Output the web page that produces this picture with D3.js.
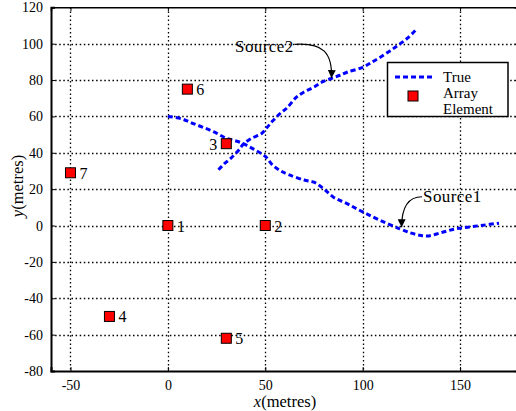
<!DOCTYPE html>
<html><head><meta charset="utf-8">
<script src="https://cdn.jsdelivr.net/npm/d3@7"></script>
<style>body{margin:0;background:#fff}svg{display:block}</style>
</head><body>
<script>
// ---- data ----
const xTicks = [-50, 0, 50, 100, 150];
const yTicks = [-80, -60, -40, -20, 0, 20, 40, 60, 80, 100, 120];
const elementIds = ["1","2","3","4","5","6","7"];
const elementX = [0, 50, 30, -30, 30, 10, -50];
const elementY = [0, 0, 45, -50, -62, 75, 29];
const labelSide = ["r","r","l","r","r","r","r"];
const source1 = [[0,60],[7,58.7],[12,56.5],[18,54],[24,51.3],[30,48],[37,45.8],[44,42],[50,38],[54,33],[58,30],[62,28],[70,25],[75,23.8],[80,20.2],[85,15.6],[92,12],[100,7.5],[109,2.8],[119,-1.8],[125,-4.2],[130,-5.5],[134,-5.7],[140,-4],[147,-2],[154,-0.9],[162,0.2],[170,1.3]];
const source2 = [[26,30.6],[29,34],[32,36.7],[36,41],[39,45],[43,48],[48,50.5],[51,54],[54,57.7],[58,62],[61,64.5],[66,70.6],[70,73.5],[75,76.1],[79,78.8],[83.5,80.7],[88,82.5],[92,84.3],[100,87],[105,90],[109,92.5],[114,96],[118,99],[123,103],[127,107.2]];
const annotations = [
  {text:"Source2", tx:34.5, ty:95.5, px:84, py:80, side:"end"},
  {text:"Source1", tx:131, ty:12.8, px:120, py:-2, side:"start"}
];
const legendLabels = ["True", "Array", "Element"];

// ---- layout ----
const W = 516, H = 411;
const x = d3.scaleLinear().domain([-60, 180]).range([51, 518.5]);
const y = d3.scaleLinear().domain([-80, 120]).range([371, 7.3]);
const FONT = "'Liberation Serif', 'Times New Roman', serif";

const svg = d3.select("body").append("svg").attr("width", W).attr("height", H)
  .style("font-family", FONT);

// grid
const grid = svg.append("g").attr("stroke", "#000").attr("stroke-width", 1.3)
  .attr("stroke-dasharray", "1.5,2.6");
grid.selectAll(".gx").data(xTicks).join("line")
  .attr("x1", d => Math.round(x(d)) + 0.5).attr("x2", d => Math.round(x(d)) + 0.5)
  .attr("y1", y(120)).attr("y2", y(-80));
grid.selectAll(".gy").data(yTicks.filter(d => d > -80 && d < 120)).join("line")
  .attr("y1", d => Math.round(y(d)) + 0.5).attr("y2", d => Math.round(y(d)) + 0.5)
  .attr("x1", x(-60)).attr("x2", x(180));

// axes (inward ticks, all four sides)
const axB = d3.axisBottom(x).tickValues(xTicks).tickSize(-4).tickPadding(9).tickFormat(d => String(d));
const axT = d3.axisTop(x).tickValues(xTicks).tickSize(-4).tickFormat("");
const axL = d3.axisLeft(y).tickValues(yTicks).tickSize(-4).tickPadding(8).tickFormat(d => String(d));
const axR = d3.axisRight(y).tickValues(yTicks).tickSize(-4).tickFormat("");
function styleAxis(g, w){
  g.select(".domain").attr("stroke-width", w).attr("stroke", "#000");
  g.selectAll(".tick line").attr("stroke", "#000").attr("stroke-width", 1);
  g.selectAll(".tick text").attr("font-size", 14).attr("font-family", FONT).attr("fill", "#000");
}
svg.append("g").attr("transform", `translate(0,${y(-80)})`).call(axB).call(g => styleAxis(g, 2));
svg.append("g").attr("transform", `translate(0,${y(120)})`).call(axT).call(g => styleAxis(g, 1.5));
svg.append("g").attr("transform", `translate(${x(-60)},0)`).call(axL).call(g => styleAxis(g, 2));
svg.append("g").attr("transform", `translate(${x(180)},0)`).call(axR).call(g => styleAxis(g, 1.5));

// axis labels
const xl = svg.append("text").attr("x", 285).attr("y", 407).attr("text-anchor", "middle")
  .attr("font-size", 16.5);
xl.append("tspan").attr("font-style", "italic").text("x");
xl.append("tspan").text("(metres)");
const yl = svg.append("text").attr("transform", "translate(23,186) rotate(-90)")
  .attr("text-anchor", "middle").attr("font-size", 16.5);
yl.append("tspan").attr("font-style", "italic").text("y");
yl.append("tspan").text("(metres)");

// lines
const line = d3.line().x(d => x(d[0])).y(d => y(d[1])).curve(d3.curveCatmullRom);
[source1, source2].forEach(s => {
  svg.append("path").datum(s).attr("d", line).attr("fill", "none")
    .attr("stroke", "#0000ff").attr("stroke-width", 3).attr("stroke-dasharray", "5,3");
});

// array elements
const elems = elementIds.map((id, i) => ({id, x: elementX[i], y: elementY[i], side: labelSide[i]}));
svg.selectAll(".el").data(elems).join("rect")
  .attr("x", d => x(d.x) - 5).attr("y", d => y(d.y) - 5).attr("width", 10).attr("height", 10)
  .attr("fill", "#ff0000").attr("stroke", "#000").attr("stroke-width", 1);
svg.selectAll(".elt").data(elems).join("text")
  .attr("x", d => d.side === "r" ? x(d.x) + 9 : x(d.x) - 9)
  .attr("y", d => y(d.y) + 6)
  .attr("text-anchor", d => d.side === "r" ? "start" : "end")
  .attr("font-size", 16).text(d => d.id);

// annotations
svg.append("defs").append("marker").attr("id", "ah").attr("viewBox", "0 0 10 10")
  .attr("refX", 10).attr("refY", 5).attr("markerWidth", 8).attr("markerHeight", 8)
  .attr("markerUnits", "userSpaceOnUse").attr("orient", "auto")
  .append("path").attr("d", "M0,0 L10,5 L0,10 z").attr("fill", "#000");
annotations.forEach(a => {
  const t = svg.append("text").attr("x", x(a.tx)).attr("y", y(a.ty))
    .attr("font-size", 17).attr("letter-spacing", 0.4).text(a.text);
  const bb = t.node().getBBox();
  const px = x(a.px), py = y(a.py);
  let sx, sy, c1x, c1y, c2x, c2y;
  if (a.side === "end") {
    sx = bb.x + bb.width + 1; sy = bb.y + bb.height / 2 - 2;
    c1x = sx + 28; c1y = sy - 2; c2x = px + 1; c2y = sy + 8;
  } else {
    sx = bb.x - 1; sy = bb.y + bb.height / 2;
    c1x = sx - 14; c1y = sy; c2x = px; c2y = sy + 10;
  }
  svg.append("path").attr("d", `M${sx},${sy} C${c1x},${c1y} ${c2x},${c2y} ${px},${py - 2}`)
    .attr("fill", "none").attr("stroke", "#000").attr("stroke-width", 1.2)
    .attr("marker-end", "url(#ah)");
});

// legend
const lg = svg.append("g");
lg.append("rect").attr("x", 387.5).attr("y", 62.5).attr("width", 120.5).attr("height", 54)
  .attr("fill", "#fff").attr("stroke", "#000").attr("stroke-width", 1.5);
lg.append("line").attr("x1", 395).attr("x2", 435).attr("y1", 77).attr("y2", 77)
  .attr("stroke", "#0000ff").attr("stroke-width", 3).attr("stroke-dasharray", "5,3");
lg.append("rect").attr("x", 408).attr("y", 91).attr("width", 10).attr("height", 10)
  .attr("fill", "#ff0000").attr("stroke", "#000").attr("stroke-width", 1);
lg.selectAll(".lt").data(legendLabels).join("text")
  .attr("x", 443).attr("y", (d, i) => [82, 98, 113.5][i])
  .attr("font-size", 15).text(d => d);
</script>
</body></html>
